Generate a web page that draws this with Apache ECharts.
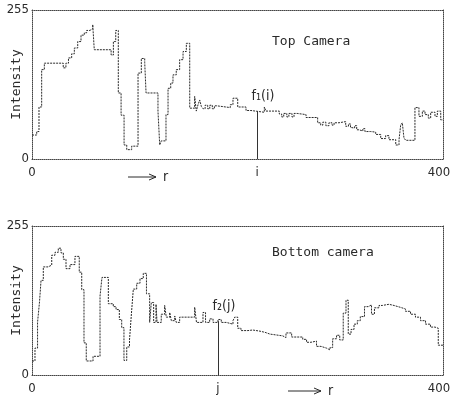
<!DOCTYPE html>
<html>
<head>
<meta charset="utf-8">
<script src="https://cdn.jsdelivr.net/npm/echarts@6/dist/echarts.min.js"></script>
<style>
  html, body { margin: 0; padding: 0; background: #fff; }
  #chart { width: 452px; height: 401px; }
</style>
</head>
<body>
<div id="chart"></div>
<script>
// step profiles: r where each step starts, intensity of the step
const topR = [0, 4.6, 6.8, 9.4, 12, 30.4, 33, 35.5, 38.6, 41.2, 44.5, 47.7, 50.9, 53.2, 56.4, 59.1, 60.6, 77, 79.2, 81.5,
  84, 86.7, 89.6, 92.2, 97, 103.2, 106.4, 109.7, 111, 122.6, 124.3, 125.8, 130.4, 132.4, 135, 137.2, 140.4, 143.7, 147, 150.2,
  153.5, 158.3, 159.9, 161.6, 163.2, 164.8, 166.5, 168.5, 171, 173, 175.5, 177.5, 180, 193, 195.6, 200.2, 208.3, 213.1, 226.1, 227.7,
  240.7, 243, 245, 248, 250, 253, 255, 258, 266.7, 278, 281, 283, 286, 289, 292, 294, 298.8, 305.3, 308, 310,
  311.4, 314, 316, 318.2, 322, 324, 329.6, 334.5, 339.4, 344.2, 347.4, 354, 357.2, 358.8, 360.4, 362, 363.7, 372.7, 376.6, 379.9,
  382.5, 385.7, 388, 392.2, 394.5, 397.8, 400];
const topV = [41, 47, 89, 153, 164, 156, 164, 173, 180, 190, 201, 212, 216, 220, 223, 230, 187, 178, 201, 220,
  113, 75, 24, 16, 22, 147, 172, 165, 113, 82, 24, 31, 76, 121, 130, 144, 153, 170, 184, 198,
  87, 107, 82, 93, 101, 90, 86, 92, 86, 92, 86, 91, 88, 93, 104, 89, 83, 80, 89, 82,
  77, 72, 78, 72, 78, 72, 78, 76, 71, 62, 58, 63, 57, 62, 58, 62, 64, 56, 60, 54,
  53, 57, 50, 48, 52, 47, 46, 42, 35, 40, 33, 24, 33, 58, 62, 36, 32, 88, 73, 82,
  76, 70, 80, 73, 82, 67, 67];

const botR = [0, 2.9, 5.4, 7.3, 8.8, 11, 15.6, 19.2, 22.4, 25.6, 28.2, 30.5, 33.1, 37, 41.8, 46, 48.4, 50.6, 52.8, 59.4,
  66.2, 68.1, 74.3, 79.1, 81.8, 85, 87.3, 89.5, 92.2, 94.9, 96.8, 98.6, 101.9, 105.1, 108.3, 111.4, 114.5, 116.1, 118.4, 120.7,
  121.7, 125.8, 129.1, 130.7, 134, 135.6, 138.9, 140.4, 143.7, 158.3, 160.1, 166.4, 168.9, 172.9, 176.2, 181, 184.2, 189.1, 195.6, 197.3,
  200.2, 203.4, 210.2, 214.8, 221.9, 226.8, 231.6, 244, 247.2, 252.7, 263.5, 267.2, 271.5, 276.9, 281.3, 286.6, 290, 292.6, 296.4, 299.5,
  302.9, 305.6, 307.8, 310.5, 313.4, 316.6, 319.5, 323.6, 327.3, 330.4, 333.3, 337.7, 340.9, 347.4, 352.3, 358.2, 363.5, 368.4, 373.2, 378.1,
  383, 387.8, 392.2, 395.4, 400];
const botV = [24, 46, 90, 125, 162, 185, 188, 205, 210, 217, 209, 198, 182, 189, 203, 176, 146, 55, 24, 32,
  135, 167, 122, 117, 112, 95, 81, 25, 48, 60, 106, 147, 157, 165, 174, 139, 90, 124, 90, 121,
  90, 104, 119, 99, 107, 93, 101, 90, 99, 116, 90, 107, 90, 96, 90, 95, 90, 87, 93, 99,
  80, 76, 77, 75, 73, 70, 67, 64, 72, 65, 61, 56, 58, 49, 46, 43, 47, 62, 68, 60,
  106, 128, 70, 78, 87, 93, 100, 117, 120, 104, 115, 119, 121, 119, 116, 113, 109, 104, 99, 93,
  87, 82, 80, 51, 51];

const yTicks = [0, 255];
const xTicks = [0, 400];
const iPos = 219, fi = 82;   // marked pixel on the top profile
const jPos = 181, fj = 92;   // marked pixel on the bottom profile

const ink = '#2a2a2a';
const numFont = '"Liberation Sans Narrow", "DejaVu Sans Condensed", "Liberation Sans", sans-serif';
const monoFont = '"DejaVu Sans Mono", "Liberation Mono", monospace';
const frame = { show: true, onZero: false, lineStyle: { color: '#444', width: 1, type: 'dotted' } };

const chart = echarts.init(document.getElementById('chart'));

function pairs(rs, vs) {
  return rs.map((r, k) => [r, vs[k]]);
}

function xAxes(grid, mark, markName) {
  return [
    {
      gridIndex: grid, type: 'value', min: xTicks[0], max: xTicks[1],
      axisLine: frame, axisTick: { show: false }, splitLine: { show: false },
      axisLabel: {
        customValues: [xTicks[0], mark, xTicks[1]],
        formatter: v => (v === mark ? markName : v === xTicks[1] ? '{end|' + v + '}' : String(v)),
        rich: { end: { fontSize: 13, fontFamily: numFont, color: ink, padding: [0, 8, 0, 0] } },
        color: ink, fontSize: 13, fontFamily: numFont, margin: 7
      }
    },
    {
      gridIndex: grid, type: 'value', position: 'top', min: xTicks[0], max: xTicks[1],
      axisLine: frame, axisTick: { show: false }, axisLabel: { show: false }, splitLine: { show: false }
    }
  ];
}

function yAxes(grid) {
  return [
    {
      gridIndex: grid, type: 'value', min: yTicks[0], max: yTicks[1], interval: 255,
      name: 'Intensity', nameLocation: 'middle', nameGap: 9, nameRotate: 90, nameMoveOverlap: false,
      nameTextStyle: { color: ink, fontSize: 13, fontFamily: monoFont },
      axisLine: frame, axisTick: { show: false }, splitLine: { show: false },
      axisLabel: { customValues: yTicks, color: ink, fontSize: 13, fontFamily: numFont, margin: 3 }
    },
    {
      gridIndex: grid, type: 'value', position: 'right', min: yTicks[0], max: yTicks[1],
      axisLine: frame, axisTick: { show: false }, axisLabel: { show: false }, splitLine: { show: false }
    }
  ];
}

function profile(idx, rs, vs, mark, markVal, tag) {
  return {
    type: 'line', step: 'end', symbol: 'none',
    xAxisIndex: idx * 2, yAxisIndex: idx * 2,
    lineStyle: { color: ink, width: 1, type: [2, 1] },
    data: pairs(rs, vs),
    markLine: {
      silent: true, symbol: ['none', 'none'], animation: false,
      lineStyle: { color: '#333', width: 1, type: 'solid' },
      label: {
        show: true, position: 'end', formatter: tag, distance: 8,
        color: ink, fontSize: 14, fontFamily: numFont, padding: [0, 0, 0, 12]
      },
      data: [[{ coord: [mark, 0] }, { coord: [mark, markVal] }]]
    }
  };
}

function arrow(x1, x2, y, tx) {
  return [
    { type: 'line', shape: { x1: x1, y1: y, x2: x2, y2: y }, style: { stroke: ink, lineWidth: 1 } },
    { type: 'polyline', shape: { points: [[x2 - 7, y - 3], [x2, y], [x2 - 7, y + 3]] }, style: { stroke: ink, lineWidth: 1, fill: null } },
    { type: 'text', x: tx, y: y, style: { text: 'r', font: '14px ' + numFont, fill: ink, verticalAlign: 'middle' } }
  ];
}

chart.setOption({
  animation: false,
  backgroundColor: '#fff',
  title: [
    { text: 'Top Camera', left: 267, top: 30, textStyle: { color: ink, fontSize: 13, fontWeight: 'normal', fontFamily: monoFont } },
    { text: 'Bottom camera', left: 267, top: 241, textStyle: { color: ink, fontSize: 13, fontWeight: 'normal', fontFamily: monoFont } }
  ],
  grid: [
    { left: 32, top: 10, width: 411, height: 149, containLabel: false, outerBoundsMode: 'none' },
    { left: 32, top: 226, width: 411, height: 149, containLabel: false, outerBoundsMode: 'none' }
  ],
  xAxis: xAxes(0, iPos, 'i').concat(xAxes(1, jPos, 'j')),
  yAxis: yAxes(0).concat(yAxes(1)),
  series: [
    profile(0, topR, topV, iPos, fi, 'f\u2081(i)'),
    profile(1, botR, botV, jPos, fj, 'f\u2082(j)')
  ],
  graphic: arrow(128, 156, 177, 163).concat(arrow(288, 321, 391, 328))
});
</script>
</body>
</html>
